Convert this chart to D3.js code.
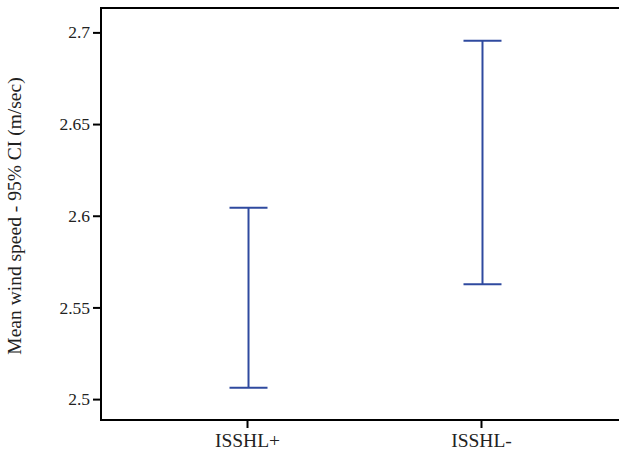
<!DOCTYPE html>
<html>
<head>
<meta charset="utf-8">
<script src="https://cdn.jsdelivr.net/npm/d3@7"></script>
<style>
  body { margin: 0; background: #fff; }
  svg text { font-family: "Liberation Serif", "Times New Roman", serif; fill: #222; }
</style>
</head>
<body>
<div id="chart"></div>
<script>
// data
const groups = ["ISSHL+", "ISSHL-"];
const lowerCI = [2.5062, 2.5626];
const upperCI = [2.6044, 2.6955];
const yTicks = [2.5, 2.55, 2.6, 2.65, 2.7];

const width = 619, height = 455;
const margin = { top: 8, right: -8, bottom: 35, left: 101 };

const svg = d3.select('#chart').append('svg')
    .attr('width', width)
    .attr('height', height);

const x = d3.scalePoint()
    .domain(groups)
    .range([margin.left, width - margin.right])
    .padding(0.624);

const y = d3.scaleLinear()
    .domain([2.4886, 2.7133])
    .range([height - margin.bottom, margin.top]);

// y axis
const yAxis = svg.append('g')
    .attr('transform', `translate(${margin.left},0)`)
    .call(d3.axisLeft(y).tickValues(yTicks).tickFormat(d3.format('')).tickSize(8).tickPadding(3));
yAxis.select('.domain').remove();
yAxis.selectAll('line').attr('stroke', '#000').attr('stroke-width', 2);
yAxis.selectAll('text').style('font-size', '17.5px').attr('fill', '#222');

// x axis
const xAxis = svg.append('g')
    .attr('transform', `translate(0,${height - margin.bottom})`)
    .call(d3.axisBottom(x).tickSize(8).tickPadding(5));
xAxis.select('.domain').remove();
xAxis.selectAll('line').attr('stroke', '#000').attr('stroke-width', 2);
xAxis.selectAll('text').style('font-size', '19.5px').attr('fill', '#222');

// frame: left, top, bottom
svg.append('path')
    .attr('d', `M${width},${margin.top}H${margin.left}V${height - margin.bottom}H${width}`)
    .attr('fill', 'none')
    .attr('stroke', '#000')
    .attr('stroke-width', 2);

// error bars
const capHalf = 19;
const bars = svg.append('g')
    .attr('stroke', '#2f4a9f')
    .attr('stroke-width', 2)
    .attr('fill', 'none');

groups.forEach((g, i) => {
    const cx = x(g) + 1.5;
    bars.append('line')
        .attr('x1', cx).attr('x2', cx)
        .attr('y1', y(upperCI[i])).attr('y2', y(lowerCI[i]));
    [upperCI[i], lowerCI[i]].forEach(v => {
        bars.append('line')
            .attr('x1', cx - capHalf).attr('x2', cx + capHalf)
            .attr('y1', y(v)).attr('y2', y(v));
    });
});

// y axis title
svg.append('text')
    .attr('transform', `translate(21,${(margin.top + height - margin.bottom) / 2 + 2}) rotate(-90)`)
    .attr('text-anchor', 'middle')
    .style('font-size', '19.5px')
    .text('Mean wind speed - 95% CI (m/sec)');
</script>
</body>
</html>
